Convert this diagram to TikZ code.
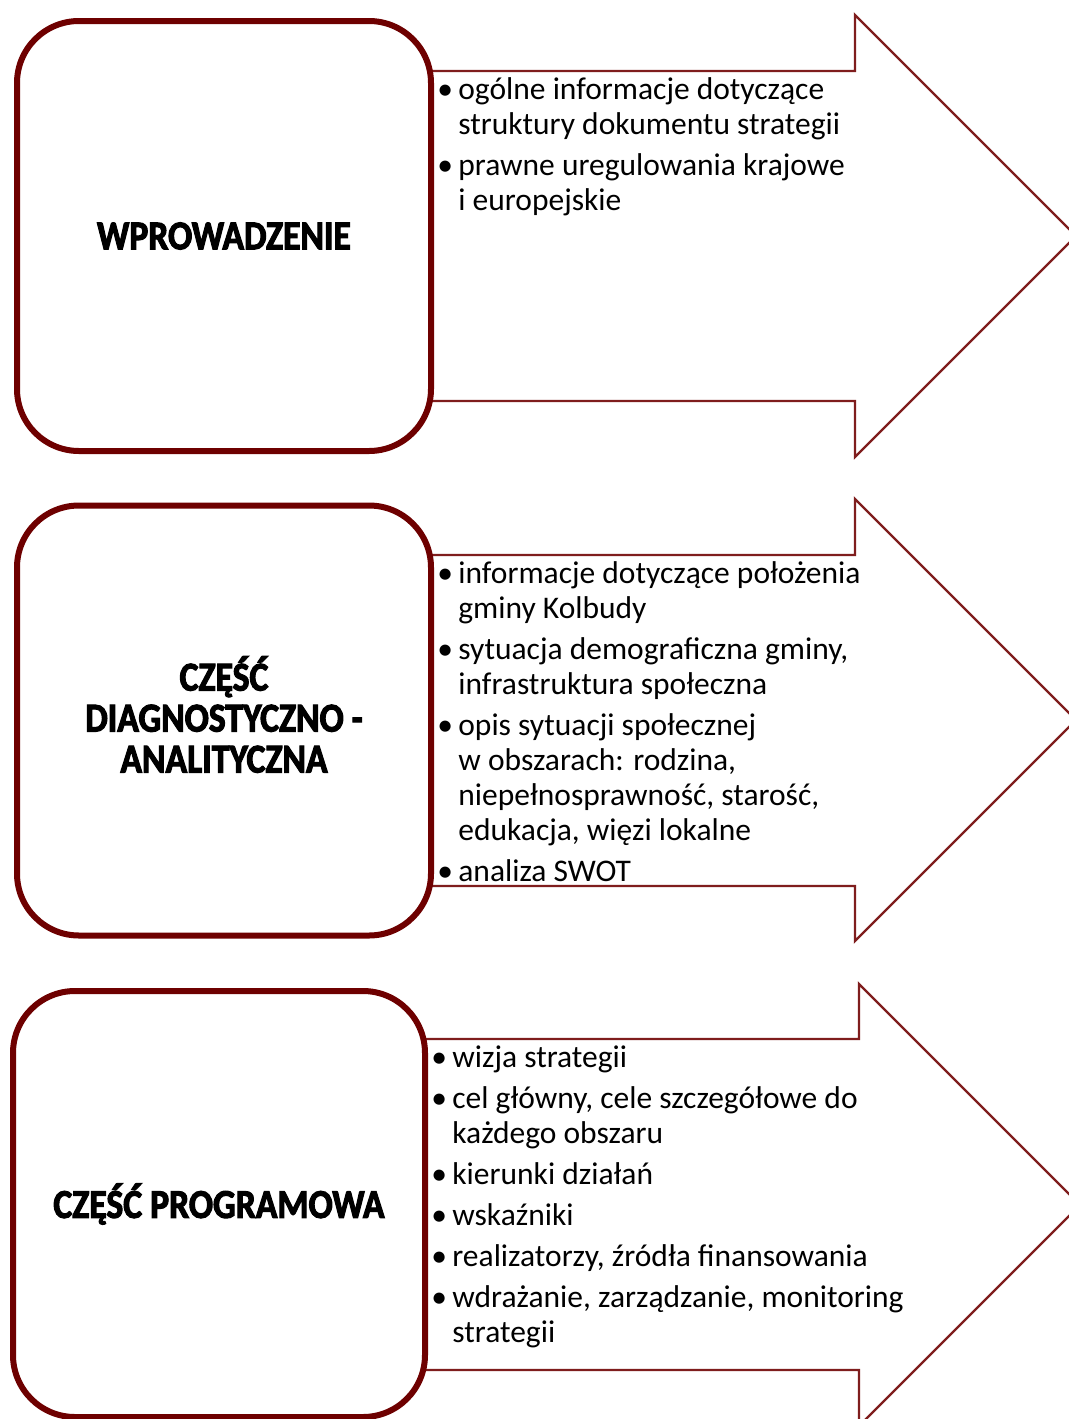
\documentclass[tikz,border=0pt]{standalone}
\usepackage{fontspec}
\setmainfont{Carlito}
\newfontfamily\tytul{Carlito}[FakeStretch=0.87,FakeBold=2.6]
\usepackage{tikz}
\usetikzlibrary{positioning}

\definecolor{bordo}{HTML}{6E0000}
\definecolor{bordojasny}{HTML}{7F1D1D}

\newcommand{\pkt}{\textbullet}

\begin{document}
\begin{tikzpicture}[x=0.5pt, y=-0.5pt,
    blok/.style={draw=bordo, line width=3pt, fill=white, rounded corners=31pt,
        minimum width=207pt, minimum height=215pt, inner sep=0pt, align=center,
        font=\tytul\bfseries\fontsize{20.5}{20.5}\selectfont},
    strzalka/.style={draw=bordojasny, line width=1.2pt, fill=white, line join=miter},
    lista/.style={anchor=base west, inner sep=0pt,
        font=\fontsize{15.75}{17.5}\selectfont}]
    \useasboundingbox (0,0) rectangle (1069,1419);

    % strzalki pod blokami
    \draw[strzalka] (380,71) -- (855,71) -- (855,15) -- (1076,236)
        -- (855,457) -- (855,401) -- (380,401) -- cycle;
    \draw[strzalka] (380,555) -- (855,555) -- (855,499) -- (1076,720)
        -- (855,941) -- (855,886) -- (380,886) -- cycle;
    \draw[strzalka] (380,1039) -- (859,1039) -- (859,984) -- (1080,1205)
        -- (859,1426) -- (859,1370) -- (380,1370) -- cycle;

    % bloki
    \node[blok] (wstep) at (224,236) {WPROWADZENIE};
    \node[blok] (diagnoza) at (224,720.5)
        {\raisebox{2pt}{\begin{tabular}{@{}c@{}}CZĘŚĆ\\DIAGNOSTYCZNO -\\ANALITYCZNA\end{tabular}}};
    \node[blok, minimum width=206pt, minimum height=213pt] (program) at (219,1204)
        {CZĘŚĆ PROGRAMOWA};

    % listy
    \node[lista] (wstep-lista) at (437,99) {%
        \begin{tabular}[t]{@{}p{10.5pt}@{}l@{}}
        \pkt & ogólne informacje dotyczące\\
             & struktury dokumentu strategii\\[3pt]
        \pkt & prawne uregulowania krajowe\\
             & i europejskie
        \end{tabular}};
    \node[lista] (diagnoza-lista) at (437,583) {%
        \begin{tabular}[t]{@{}p{10.5pt}@{}l@{}}
        \pkt & informacje dotyczące położenia\\
             & gminy Kolbudy\\[3pt]
        \pkt & sytuacja demograficzna gminy,\\
             & infrastruktura społeczna\\[3pt]
        \pkt & opis sytuacji społecznej\\
             & w obszarach: rodzina,\\
             & niepełnosprawność, starość,\\
             & edukacja, więzi lokalne\\[3pt]
        \pkt & analiza SWOT
        \end{tabular}};
    \node[lista] (program-lista) at (431,1067) {%
        \begin{tabular}[t]{@{}p{10.5pt}@{}l@{}}
        \pkt & wizja strategii\\[3pt]
        \pkt & cel główny, cele szczegółowe do\\
             & każdego obszaru\\[3pt]
        \pkt & kierunki działań\\[3pt]
        \pkt & wskaźniki\\[3pt]
        \pkt & realizatorzy, źródła finansowania\\[3pt]
        \pkt & wdrażanie, zarządzanie, monitoring\\
             & strategii
        \end{tabular}};
\end{tikzpicture}
\end{document}
